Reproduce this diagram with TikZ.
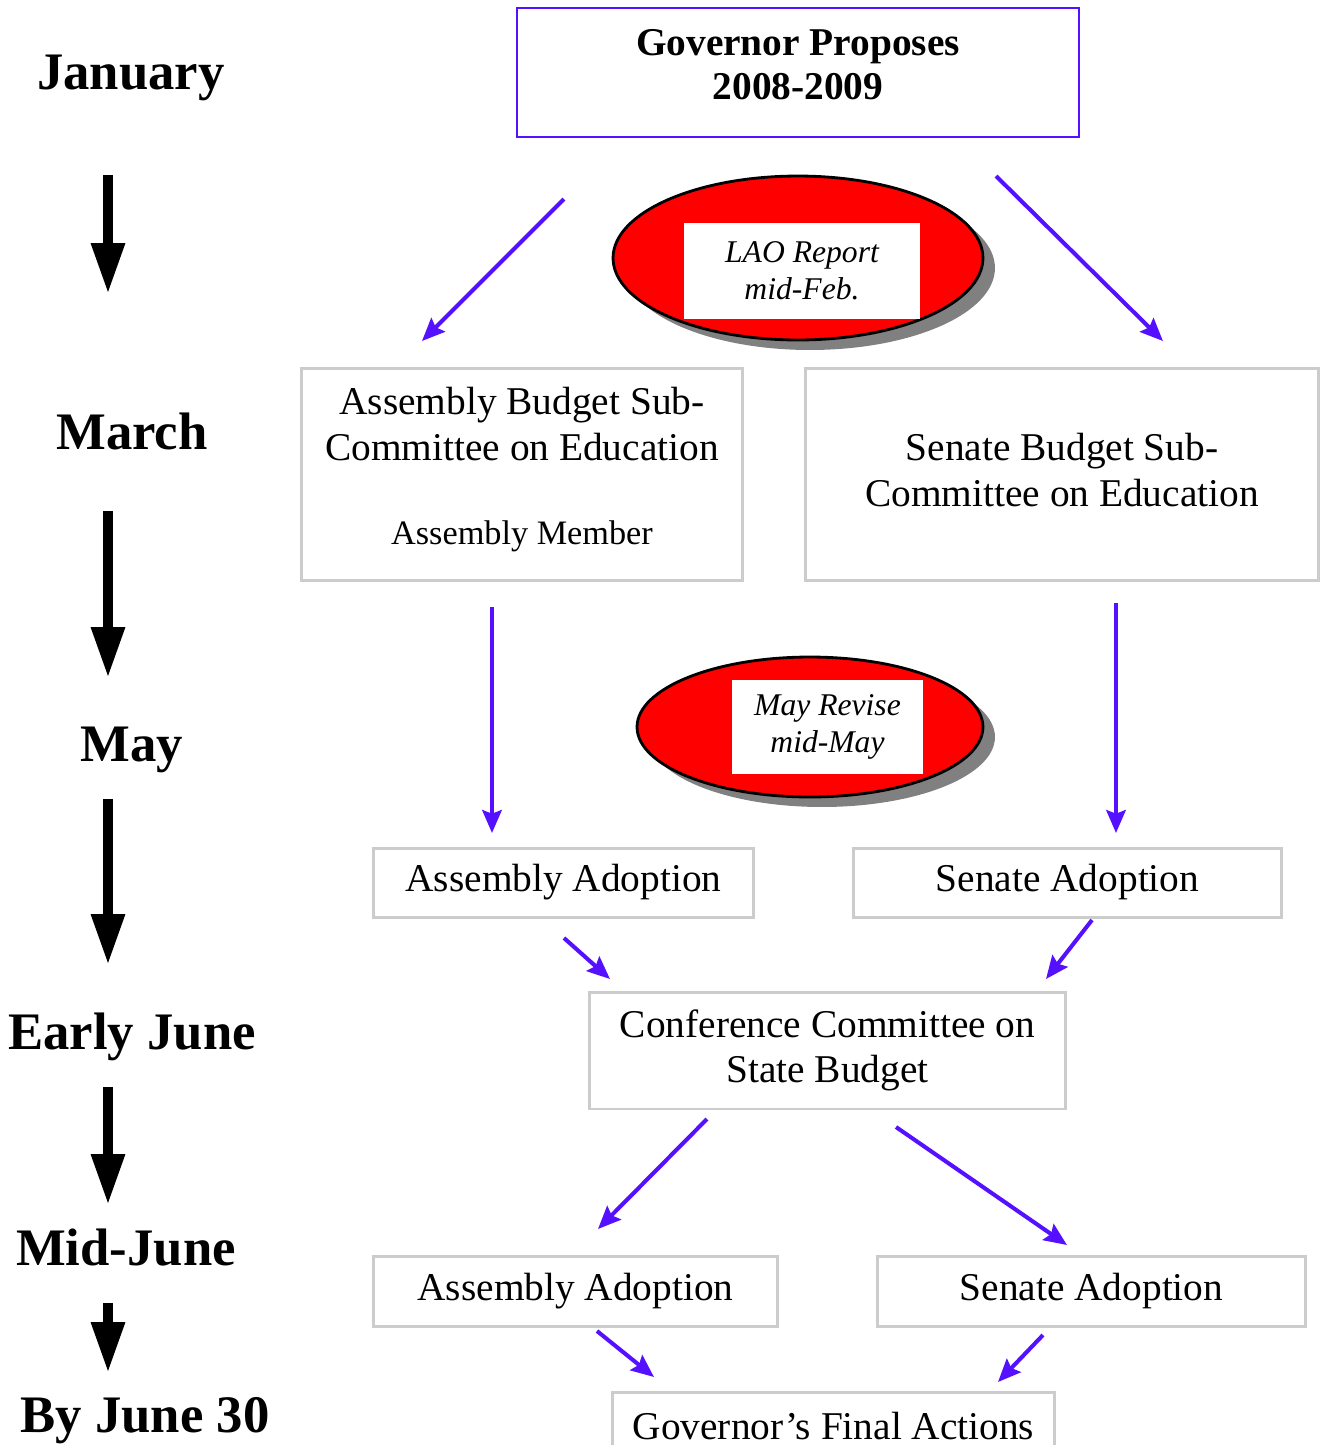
\documentclass[tikz,border=0pt]{standalone}
\usepackage{fontspec}
\setmainfont{Liberation Serif}
\usetikzlibrary{shapes.geometric, arrows.meta, shadows, positioning}

\definecolor{flowblue}{RGB}{85,17,255}
\definecolor{boxgray}{RGB}{204,204,204}

\begin{document}
\begin{tikzpicture}[x=0.02cm, y=-0.02cm,
  month/.style={font=\fontsize{30}{34}\selectfont\bfseries, text depth=0pt},
  stage/.style={draw=boxgray, line width=1.7pt, align=center, inner sep=0pt, font=\fontsize{22.4}{26}\selectfont},
  report/.style={ellipse, draw=black, line width=1.6pt, fill=red, drop shadow={shadow xshift=0.24cm, shadow yshift=-0.2cm, fill=black!50, opacity=1}},
  note/.style={fill=white, align=center, inner sep=0pt, font=\fontsize{18}{21}\selectfont\itshape},
  flow/.style={-{Stealth[length=13pt, width=11pt, inset=2pt]}, draw=flowblue, line width=2.3pt},
  timeline/.style={-{Triangle[length=29pt, width=18pt]}, line width=5.8pt}]
\useasboundingbox (0,0) rectangle (1325,1445);
% Months
\node[month] (Jan) at (131,72) {January};
\node[month] (Mar) at (132,431) {March};
\node[month] (May) at (132,744) {May};
\node[month] (EJune) at (132,1031) {Early June};
\node[month] (MJune) at (126,1247) {Mid-June};
\node[month] (LJune) at (145,1415) {By June 30};
% Timeline arrows
\coordinate (t1a) at (108,175); \coordinate (t1b) at (108,294);
\coordinate (t2a) at (108,511); \coordinate (t2b) at (108,678);
\coordinate (t3a) at (108,799); \coordinate (t3b) at (108,965);
\coordinate (t4a) at (108,1087); \coordinate (t4b) at (108,1205);
\coordinate (t5a) at (108,1303); \coordinate (t5b) at (108,1373);
\foreach \a/\b in {t1a/t1b, t2a/t2b, t3a/t3b, t4a/t4b, t5a/t5b}
  \draw[timeline] (\a) -- (\b);
% Governor
\node[draw=flowblue, line width=1.2pt, align=center, minimum width=11.24cm, minimum height=2.58cm, font=\fontsize{22.4}{25}\selectfont\bfseries] (Gov) at (798,72.5) {Governor Proposes\\2008-2009\rule[-9pt]{0pt}{9pt}};
% LAO report
\node[report, minimum width=7.4cm, minimum height=3.28cm] (LAO) at (798,258) {};
\node[note, minimum width=4.72cm, minimum height=1.92cm] (LAOtext) at (802,271) {LAO Report\\mid-Feb.};
% Sub-committees
\node[stage, minimum width=8.84cm, minimum height=4.26cm] (AsmSub) at (522,474.5) {Assembly Budget Sub-\\Committee on Education\\[22pt]{\fontsize{19.5}{22}\selectfont Assembly Member\rule[-10pt]{0pt}{10pt}}};
\node[stage, minimum width=10.28cm, minimum height=4.26cm] (SenSub) at (1062,474.5) {Senate Budget Sub-\\Committee on Education\rule[-5.6pt]{0pt}{5.6pt}};
% May revise
\node[report, minimum width=6.92cm, minimum height=2.8cm] (Revise) at (810,727) {};
\node[note, minimum width=3.82cm, minimum height=1.88cm] (Revisetext) at (827.5,727) {May Revise\\mid-May};
% Adoptions
\node[stage, minimum width=7.62cm, minimum height=1.38cm] (AsmAdopt) at (563.5,882.5) {Assembly Adoption};
\node[stage, minimum width=8.58cm, minimum height=1.38cm] (SenAdopt) at (1067.5,882.5) {Senate Adoption};
\node[stage, minimum width=9.54cm, minimum height=2.34cm] (Conf) at (827.5,1050.5) {Conference Committee on\\State Budget};
\node[stage, minimum width=8.1cm, minimum height=1.4cm] (AsmFinal) at (575.5,1291) {Assembly Adoption};
\node[stage, minimum width=8.58cm, minimum height=1.4cm] (SenFinal) at (1091.5,1291) {Senate Adoption};
\node[stage, minimum width=8.86cm, minimum height=1.36cm] (GovFinal) at (833.5,1426) {Governor’s Final Actions};
% Flow arrows
\coordinate (f1a) at (564,199); \coordinate (f1b) at (422,341);
\coordinate (f2a) at (996,176); \coordinate (f2b) at (1163,341);
\coordinate (f3a) at (492,607); \coordinate (f3b) at (492,833);
\coordinate (f4a) at (1116,603); \coordinate (f4b) at (1116,833);
\coordinate (f5a) at (564,938); \coordinate (f5b) at (610,979);
\coordinate (f6a) at (1092,920); \coordinate (f6b) at (1046,979);
\coordinate (f7a) at (707,1119); \coordinate (f7b) at (598,1229);
\coordinate (f8a) at (896,1127); \coordinate (f8b) at (1067,1245);
\coordinate (f9a) at (597,1331); \coordinate (f9b) at (654,1377);
\coordinate (f10a) at (1043,1335); \coordinate (f10b) at (998,1382);
\foreach \i in {1,...,10}
  \draw[flow] (f\i a) -- (f\i b);
\end{tikzpicture}
\end{document}
